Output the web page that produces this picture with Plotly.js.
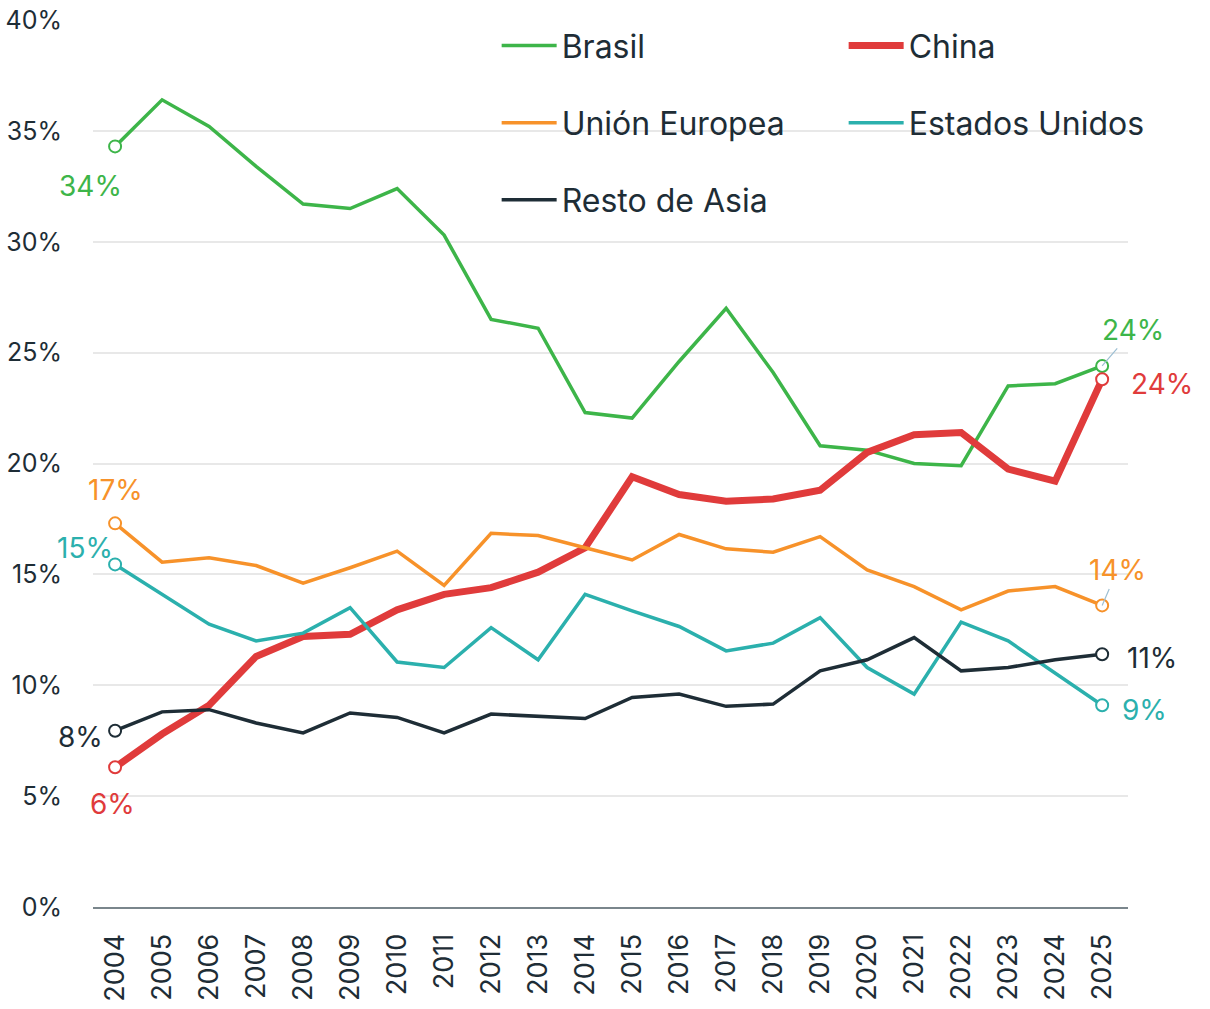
<!DOCTYPE html>
<html>
<head>
<meta charset="utf-8">
<script src="https://cdn.plot.ly/plotly-3.0.1.min.js"></script>
<style>html,body{margin:0;padding:0;background:#fff;}#chart{width:1210px;height:1009px;}</style>
</head>
<body>
<div id="chart"></div>
<script>
const years = [2004,2005,2006,2007,2008,2009,2010,2011,2012,2013,2014,2015,2016,2017,2018,2019,2020,2021,2022,2023,2024,2025];
const brasil = [34.3,36.4,35.2,33.4,31.7,31.5,32.4,30.3,26.5,26.1,22.3,22.05,24.6,27.0,24.1,20.8,20.6,20.0,19.9,23.5,23.6,24.4];
const china = [6.3,7.8,9.1,11.3,12.2,12.3,13.4,14.1,14.4,15.1,16.2,19.4,18.6,18.3,18.4,18.8,20.5,21.3,21.4,19.75,19.2,23.8];
const ue = [17.3,15.55,15.75,15.4,14.6,15.3,16.05,14.5,16.85,16.75,16.2,15.65,16.8,16.15,16.0,16.7,15.2,14.45,13.4,14.25,14.45,13.6];
const eeuu = [15.45,14.1,12.75,12.0,12.35,13.5,11.05,10.8,12.6,11.15,14.1,13.35,12.65,11.55,11.9,13.05,10.8,9.6,12.85,12.0,10.55,9.1];
const restoAsia = [7.95,8.8,8.9,8.3,7.85,8.75,8.55,7.85,8.7,8.6,8.5,9.45,9.6,9.05,9.15,10.65,11.15,12.15,10.65,10.8,11.15,11.4];

const names = ['Brasil','China','Unión Europea','Estados Unidos','Resto de Asia'];
const colors = ['#3db549','#e03b3b','#f7922a','#2bb0ad','#1e2d36'];
const series = [brasil, china, ue, eeuu, restoAsia];
const widths = [3.5, 7, 3.5, 3.5, 3.5];
const legendIds = ['legend','legend','legend2','legend2','legend3'];

const FONT = 'Inter, "Noto Sans", sans-serif';
const DARK = '#1e2d36';

const traces = [];
series.forEach((s, i) => {
  traces.push({
    x: years, y: s, name: names[i], type: 'scatter', mode: 'lines',
    line: {color: colors[i], width: widths[i]},
    legend: legendIds[i], hoverinfo: 'skip'
  });
});
series.forEach((s, i) => {
  traces.push({
    x: [years[0], years[years.length-1]], y: [s[0], s[s.length-1]],
    type: 'scatter', mode: 'markers', showlegend: false, hoverinfo: 'skip',
    marker: {size: 12, color: '#ffffff', line: {color: colors[i], width: 2}}
  });
});

function lab(x, y, i, ax, ay, arrow) {
  const v = Math.round(y) + '%';
  return {
    x: x, y: y, xref: 'x', yref: 'y', text: v,
    showarrow: true, arrowhead: 0, arrowwidth: 1.2,
    arrowcolor: arrow ? '#9dbfd3' : 'rgba(0,0,0,0)',
    ax: ax, ay: ay, font: {family: FONT, size: 28, color: colors[i]}
  };
}
const last = years.length - 1;
const annotations = [
  lab(years[0], brasil[0], 0, -25, 40, false),
  lab(years[last], brasil[last], 0, 31, -36, true),
  lab(years[0], china[0], 1, -3, 37, false),
  lab(years[last], china[last], 1, 60, 5, false),
  lab(years[0], ue[0], 2, 0, -33, false),
  lab(years[last], ue[last], 2, 15, -35, true),
  lab(years[0], eeuu[0], 3, -30, -16, false),
  lab(years[last], eeuu[last], 3, 42, 5, false),
  lab(years[0], restoAsia[0], 4, -35, 6, false),
  lab(years[last], restoAsia[last], 4, 50, 4, false)
];

const legBase = {
  orientation: 'h', xanchor: 'left', yanchor: 'middle',
  font: {family: FONT, size: 32, color: DARK},
  bgcolor: 'rgba(0,0,0,0)', itemwidth: 55, entrywidth: 277,
  itemclick: false, itemdoubleclick: false, traceorder: 'normal'
};

const layout = {
  width: 1210, height: 1009,
  margin: {l: 93, r: 82, t: 20, b: 102, autoexpand: false},
  paper_bgcolor: '#ffffff', plot_bgcolor: '#ffffff',
  font: {family: FONT, color: DARK},
  xaxis: {
    range: [2003.53, 2025.55], tickmode: 'array', tickvals: years,
    ticktext: years.map(String), tickangle: -90,
    tickfont: {family: FONT, size: 27, color: DARK},
    showgrid: false, zeroline: false, showline: true,
    linecolor: '#7a868c', linewidth: 2, ticks: '', ticklabelstandoff: 14,
    automargin: false
  },
  yaxis: {
    range: [0, 40], dtick: 5, ticksuffix: '%',
    tickfont: {family: FONT, size: 25, color: DARK},
    showgrid: true, gridcolor: '#e8e8e8', gridwidth: 2,
    zeroline: false, showline: false, ticks: '', ticklabelstandoff: 30,
    automargin: false
  },
  showlegend: true,
  legend: Object.assign({}, legBase, {x: 0.39, y: 0.971}),
  legend2: Object.assign({}, legBase, {x: 0.39, y: 0.884}),
  legend3: Object.assign({}, legBase, {x: 0.39, y: 0.797}),
  annotations: annotations
};

Plotly.newPlot('chart', traces, layout, {displayModeBar: false, staticPlot: true});
</script>
</body>
</html>
